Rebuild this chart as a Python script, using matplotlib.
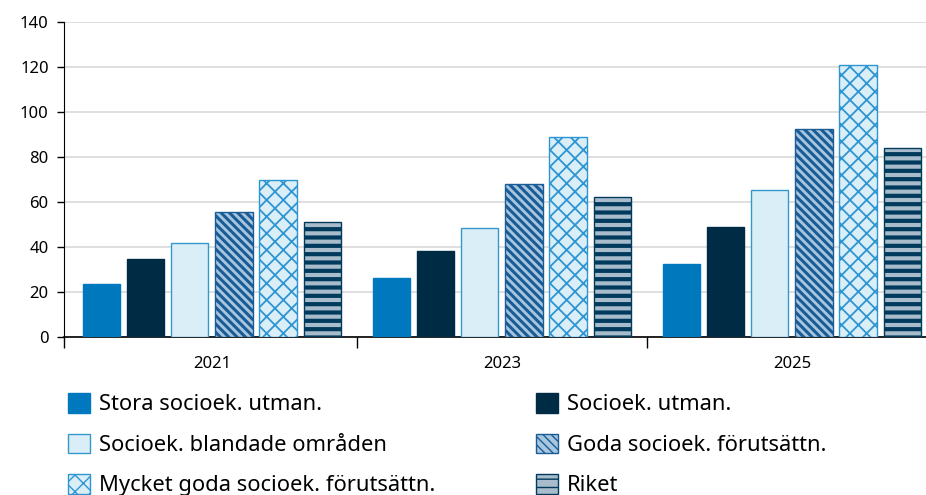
import matplotlib
matplotlib.use("Agg")
import matplotlib.pyplot as plt
import numpy as np

plt.rcParams['font.family'] = ['Noto Sans', 'DejaVu Sans']

years = ['2021', '2023', '2025']
series = [
    'Stora socioek. utman.',
    'Socioek. utman.',
    'Socioek. blandade områden',
    'Goda socioek. förutsättn.',
    'Mycket goda socioek. förutsättn.',
    'Riket',
]
stora = [23.5, 26.2, 32.4]
utman = [34.6, 38.2, 48.8]
blandade = [41.6, 48.4, 65.2]
goda = [55.5, 67.9, 92.3]
mycket_goda = [69.6, 89.0, 121.0]
riket = [51.0, 62.1, 84.0]
values = [stora, utman, blandade, goda, mycket_goda, riket]

# face, edge/hatch colour, hatch, hatch linewidth
styles = [
    ('#0078be', '#0078be', None, 1.0),
    ('#002b45', '#002b45', None, 1.0),
    ('#daeef7', '#3399cc', None, 1.0),
    ('#a9c6df', '#1a5c96', '\\\\\\\\', 2.2),
    ('#daeef7', '#2e95d3', 'xx', 1.3),
    ('#a8bccb', '#003a5d', '--', 3.0),
]

fig = plt.figure(figsize=(9.26, 4.95), dpi=100)
ax = fig.add_axes([64 / 926, 1 - 337 / 495, 1 - 64 / 926, 315 / 495])

x = np.arange(len(years))
step = 0.152
width = 0.128
xmin = -0.51
handles = []
for i, (vals, (fc, ec, hatch, hlw)) in enumerate(zip(values, styles)):
    with plt.rc_context({'hatch.linewidth': hlw}):
        b = ax.bar(x + (i - 2.5) * step, vals, width, color=fc, edgecolor=ec,
                   hatch=hatch, linewidth=1.0, label=series[i], zorder=3)
    for p in b.patches:
        if hasattr(p, 'set_hatch_linewidth'):
            p.set_hatch_linewidth(hlw)
    handles.append(b)

ax.set_ylim(0, 140)
ax.set_xlim(xmin, xmin + 862 / 290)
ax.set_yticks(range(0, 141, 20))
ax.yaxis.grid(True, color='#d9d9d9', linewidth=1.2, zorder=0)
ax.tick_params(axis='y', direction='out', length=5, width=1, labelsize=12, pad=6)

ax.set_xticks([xmin, 0.5, 1.5])
ax.set_xticklabels([])
ax.tick_params(axis='x', which='major', direction='out', length=8, width=1)
ax.set_xticks(x, minor=True)
ax.set_xticklabels(years, minor=True)
ax.tick_params(axis='x', which='minor', length=0, labelsize=12, pad=14)

for s in ['top', 'right']:
    ax.spines[s].set_visible(False)
ax.spines['left'].set_color('black')
ax.spines['bottom'].set_color('black')
ax.spines['bottom'].set_linewidth(1.2)

order = [0, 2, 4, 1, 3, 5]
fig.legend([handles[k] for k in order], [series[k] for k in order],
           ncol=2, loc='upper left', bbox_to_anchor=(68 / 926, 1 - 393 / 495),
           frameon=False, fontsize=15.8, handlelength=1.0, handleheight=1.0,
           handletextpad=0.4, labelspacing=0.83, columnspacing=4.6,
           borderaxespad=0, borderpad=0)

fig.savefig('out.png', dpi=100)
